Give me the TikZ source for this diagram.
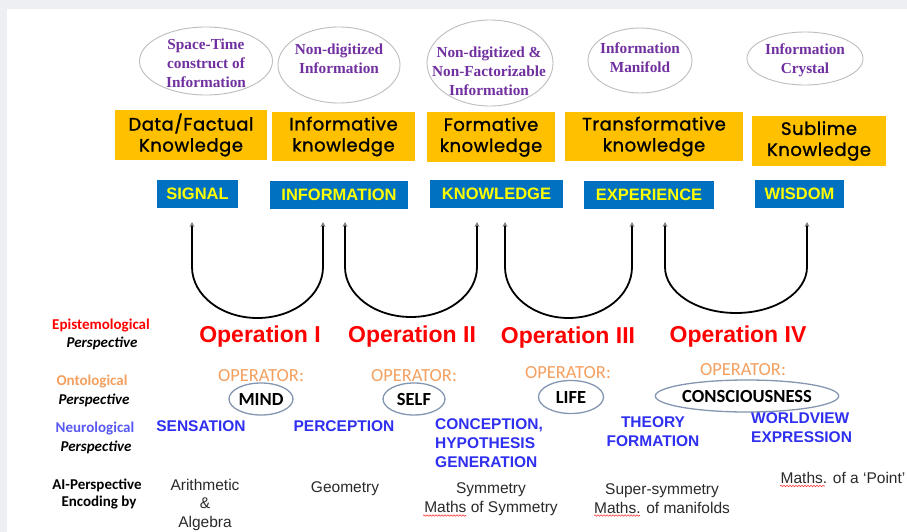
\documentclass[tikz,border=0pt]{standalone}
\usepackage{fontspec}
\setmainfont{Liberation Sans}
\newfontfamily\lserif{Liberation Serif}
\newfontfamily\calib{Carlito}
\newfontfamily\hand{Poppins}[LetterSpace=3,FakeBold=1.2]
\usetikzlibrary{shapes.geometric,arrows.meta,decorations.pathmorphing}
\definecolor{bgg}{HTML}{EEEFF2}
\definecolor{ellgray}{HTML}{BDBDBD}
\definecolor{purp}{HTML}{7030A0}
\definecolor{oboxc}{HTML}{FFC000}
\definecolor{bboxc}{HTML}{0070C0}
\definecolor{yel}{HTML}{FFFF00}
\definecolor{opred}{HTML}{FF0000}
\definecolor{orng}{HTML}{F4A060}
\definecolor{ellblue}{HTML}{8496B0}
\definecolor{nblue}{HTML}{2F2FF0}
\definecolor{dgray}{HTML}{2A2A2A}
\begin{document}
\begin{tikzpicture}[x=1pt,y=-1pt,
  topell/.style={ellipse, draw=ellgray, line width=0.9pt, inner sep=0pt},
  toptxt/.style={text=purp, font=\lserif\bfseries\fontsize{15.3}{19}\selectfont, align=center, inner sep=0pt},
  obox/.style={fill=oboxc, inner sep=0pt, font=\hand\fontsize{18}{21}\selectfont, align=center},
  bbox/.style={fill=bboxc, text=yel, font=\bfseries\fontsize{16.5}{20}\selectfont, inner sep=0pt},
  uarr/.style={line width=1.8pt, black, {Stealth[length=5pt,width=5pt,color=gray]}-{Stealth[length=5pt,width=5pt,color=gray]}},
  opname/.style={text=opred, font=\bfseries\fontsize{23}{26}\selectfont, inner sep=0pt},
  operl/.style={text=orng, font=\calib\fontsize{18.5}{20}\selectfont, inner sep=0pt},
  opell/.style={ellipse, draw=ellblue, line width=1.3pt, inner sep=0pt, font=\calib\bfseries\fontsize{18.5}{20}\selectfont},
  neur/.style={text=nblue, font=\bfseries\fontsize{15.5}{19}\selectfont, inner sep=0pt},
  encl/.style={text=dgray, font=\fontsize{15.5}{18.5}\selectfont, align=center, inner sep=0pt},
  lhead/.style={font=\calib\bfseries\fontsize{15}{17}\selectfont, inner sep=0pt},
  lpersp/.style={font=\calib\bfseries\itshape\fontsize{15}{17}\selectfont, inner sep=0pt},
  squig/.style={opred!80, line width=0.6pt, decorate, decoration={snake, segment length=3pt, amplitude=0.7pt}}
]
\useasboundingbox (0,0) rectangle (907,532);
\fill[bgg] (0,0) rectangle (907,532);
\fill[white] (7,9) rectangle (907,532);

% top ellipses
\node[topell, minimum width=133pt, minimum height=68pt] (e1) at (206,61) {};
\node[toptxt] (t1) at (206,63.5) {Space-Time\\construct of\\Information};
\node[topell, minimum width=122pt, minimum height=76pt] (e2) at (339,65) {};
\node[toptxt] (t2) at (339,58.5) {Non-digitized\\Information};
\node[topell, minimum width=126pt, minimum height=86pt] (e3) at (490,63) {};
\node[toptxt] (t3) at (489,71) {Non-digitized \&\\Non-Factorizable\\Information};
\node[topell, minimum width=104pt, minimum height=65pt] (e4) at (640,60.5) {};
\node[toptxt] (t4) at (640,57.5) {Information\\Manifold};
\node[topell, minimum width=116pt, minimum height=53pt] (e5) at (805,58.5) {};
\node[toptxt] (t5) at (805,60.5) {Information\\Crystal};

% orange boxes
\node[obox, minimum width=152pt, minimum height=50pt] (k1) at (191,135) {Data/Factual\\Knowledge};
\node[obox, minimum width=143pt, minimum height=49pt] (k2) at (343.5,136.5) {Informative\\knowledge};
\node[obox, minimum width=128pt, minimum height=50pt] (k3) at (491,137) {Formative\\knowledge};
\node[obox, minimum width=178pt, minimum height=49pt] (k4) at (654,136.5) {Transformative\\knowledge};
\node[obox, minimum width=134pt, minimum height=50pt] (k5) at (819,141) {Sublime\\Knowledge};

% blue boxes
\node[bbox, minimum width=81pt, minimum height=28pt] (b1) at (197.5,194) {SIGNAL};
\node[bbox, minimum width=138pt, minimum height=28pt] (b2) at (339,195) {INFORMATION};
\node[bbox, minimum width=133pt, minimum height=28pt] (b3) at (496.5,194) {KNOWLEDGE};
\node[bbox, minimum width=130pt, minimum height=28pt] (b4) at (649,195) {EXPERIENCE};
\node[bbox, minimum width=89pt, minimum height=28pt] (b5) at (799.5,194) {WISDOM};

% U arrows
\coordinate (u1l) at (192,222); \coordinate (u1r) at (323,222);
\coordinate (u2l) at (345,222); \coordinate (u2r) at (477,222);
\coordinate (u3l) at (505,222); \coordinate (u3r) at (632,222);
\coordinate (u4l) at (665,222); \coordinate (u4r) at (807,222);
\draw[uarr] (u1l) -- ++(0,45) arc[start angle=180, end angle=0, x radius=65.5, y radius=51] -- (u1r);
\draw[uarr] (u2l) -- ++(0,45) arc[start angle=180, end angle=0, x radius=66, y radius=50] -- (u2r);
\draw[uarr] (u3l) -- ++(0,45) arc[start angle=180, end angle=0, x radius=63.5, y radius=51] -- (u3r);
\draw[uarr] (u4l) -- ++(0,45) arc[start angle=180, end angle=0, x radius=71, y radius=46] -- (u4r);

% operations
\node[opname] (o1) at (260,337) {Operation I};
\node[opname] (o2) at (412,337) {Operation II};
\node[opname] (o3) at (568,338) {Operation III};
\node[opname] (o4) at (738,337) {Operation IV};

\node[operl] (p1) at (261,376) {OPERATOR:};
\node[operl] (p2) at (414,376) {OPERATOR:};
\node[operl] (p3) at (568,373) {OPERATOR:};
\node[operl] (p4) at (743,370) {OPERATOR:};

\node[opell, minimum width=64pt, minimum height=32pt] (m1) at (261,399) {MIND};
\node[opell, minimum width=62pt, minimum height=32pt] (m2) at (414,399) {SELF};
\node[opell, minimum width=65pt, minimum height=33pt] (m3) at (571,397) {LIFE};
\node[opell, minimum width=148pt, minimum height=32pt] (m4) at (747,396) {CONSCIOUSNESS};

% neurological
\node[neur] (n1) at (201,426) {SENSATION};
\node[neur] (n2) at (344,426) {PERCEPTION};
\node[neur, anchor=west, align=left] (n3) at (435,443) {CONCEPTION,\\HYPOTHESIS\\GENERATION};
\node[neur, align=center] (n4) at (653,431.5) {THEORY\\FORMATION};
\node[neur, anchor=west, align=left] (n5) at (751,428) {WORLDVIEW\\EXPRESSION};

% encoding
\node[encl] (a1) at (205,504.5) {Arithmetic\\\&\\Algebra};
\node[encl] (a2) at (345,489) {Geometry};
\node[encl] (a3) at (491,499) {Symmetry\\Maths of Symmetry};
\node[encl] (a4) at (662,498.5) {Super-symmetry\\Maths. of manifolds};
\node[encl] (a5) at (843,478) {Maths. of a ‘Point’};
\draw[squig] (423,515.5) -- (466,515.5);
\draw[squig] (594,515.5) -- (640,515.5);
\draw[squig] (780,486) -- (825,486);

% left labels
\node[lhead, text=opred] (l1) at (101,326) {Epistemological};
\node[lpersp] (l1b) at (102,343) {Perspective};
\node[lhead, text=orng] (l2) at (92,382) {Ontological};
\node[lpersp] (l2b) at (94,400) {Perspective};
\node[lhead, text=nblue!80] (l3) at (95,429) {Neurological};
\node[lpersp] (l3b) at (96,447) {Perspective};
\node[lhead] (l4) at (97,485) {AI-Perspective};
\node[lhead] (l4b) at (99,503) {Encoding by};
\end{tikzpicture}
\end{document}
